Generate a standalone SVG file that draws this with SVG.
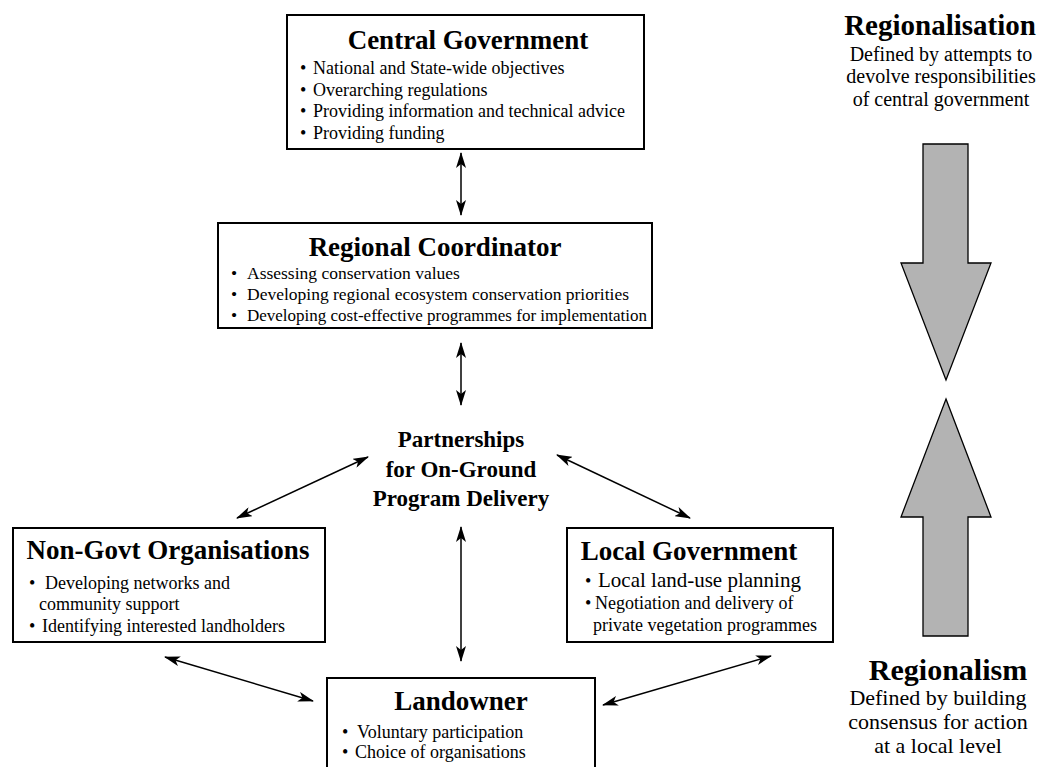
<svg xmlns="http://www.w3.org/2000/svg" width="1038" height="767" viewBox="0 0 1038 767">
<style>
.box{fill:#fff;stroke:#000;stroke-width:2}
.t{font-family:"Liberation Serif","Times New Roman",serif;font-weight:bold;font-size:27px;text-anchor:middle;fill:#000}
.b{font-family:"Liberation Serif","Times New Roman",serif;font-size:18px;fill:#000}
.p{font-family:"Liberation Serif","Times New Roman",serif;font-weight:bold;font-size:23px;text-anchor:middle;fill:#000}
.s{font-family:"Liberation Serif","Times New Roman",serif;font-size:20px;text-anchor:middle;fill:#000}
.c{stroke:#000;stroke-width:1.5;fill:none;marker-start:url(#ah);marker-end:url(#ah)}
.big{fill:#b3b3b3;stroke:#000;stroke-width:1.3}
</style>
<defs>
<marker id="ah" viewBox="0 0 16 10" refX="15" refY="5" markerWidth="16" markerHeight="10" markerUnits="userSpaceOnUse" orient="auto-start-reverse">
<path d="M0,0 L16,5 L0,10 L4,5 z" fill="#000"/>
</marker>
</defs>
<rect width="1038" height="767" fill="#fff"/>

<g id="central">
<rect class="box" x="287" y="15" width="357" height="134"/>
<text class="t" x="468" y="49">Central Government</text>
<text class="b" y="74"><tspan x="300">•</tspan><tspan x="313">National and State-wide objectives</tspan></text>
<text class="b" y="95.5"><tspan x="300">•</tspan><tspan x="313">Overarching regulations</tspan></text>
<text class="b" y="117"><tspan x="300">•</tspan><tspan x="313">Providing information and technical advice</tspan></text>
<text class="b" y="138.5"><tspan x="300">•</tspan><tspan x="313">Providing funding</tspan></text>
</g>

<g id="regional">
<rect class="box" x="218" y="223" width="434" height="105"/>
<text class="t" x="435" y="256">Regional Coordinator</text>
<text class="b" y="279" style="font-size:17.5px"><tspan x="231">•</tspan><tspan x="247">Assessing conservation values</tspan></text>
<text class="b" y="300" style="font-size:17.5px"><tspan x="231">•</tspan><tspan x="247">Developing regional ecosystem conservation priorities</tspan></text>
<text class="b" y="321" style="font-size:17.5px"><tspan x="231">•</tspan><tspan x="247" textLength="400" lengthAdjust="spacingAndGlyphs">Developing cost-effective programmes for implementation</tspan></text>
</g>

<g id="partnerships">
<text class="p" x="461" y="447">Partnerships</text>
<text class="p" x="461" y="477">for On-Ground</text>
<text class="p" x="461" y="506">Program Delivery</text>
</g>

<g id="ngo">
<rect class="box" x="13" y="528" width="312" height="114"/>
<text class="t" x="168" y="559">Non-Govt Organisations</text>
<text class="b" y="589"><tspan x="29">•</tspan><tspan x="45">Developing networks and</tspan></text>
<text class="b" x="39" y="610">community support</text>
<text class="b" y="632"><tspan x="29">•</tspan><tspan x="42">Identifying interested landholders</tspan></text>
</g>

<g id="localgov">
<rect class="box" x="567" y="528" width="266" height="114"/>
<text class="t" x="689" y="560">Local Government</text>
<text class="b" y="587"><tspan x="585">•</tspan><tspan x="598" style="font-size:21px">Local land-use planning</tspan></text>
<text class="b" y="609"><tspan x="585">•</tspan><tspan x="595">Negotiation and delivery of</tspan></text>
<text class="b" x="593" y="631">private vegetation programmes</text>
</g>

<g id="landowner">
<rect class="box" x="327" y="678" width="268" height="100"/>
<text class="t" x="461" y="710">Landowner</text>
<text class="b" y="738"><tspan x="342">•</tspan><tspan x="357">Voluntary participation</tspan></text>
<text class="b" y="758"><tspan x="342">•</tspan><tspan x="355">Choice of organisations</tspan></text>
</g>

<g id="regionalisation">
<text class="t" x="940" y="35" style="font-size:29px">Regionalisation</text>
<text class="s" x="941" y="61">Defined by attempts to</text>
<text class="s" x="941" y="83">devolve responsibilities</text>
<text class="s" x="941" y="106">of central government</text>
<path class="big" d="M923,144 L968,144 L968,263 L991,263 L946,380 L901,263 L923,263 Z"/>
</g>

<g id="regionalism">
<path class="big" d="M946,399 L991,517 L968,517 L968,636 L923,636 L923,517 L901,517 Z"/>
<text class="t" x="948" y="680" style="font-size:30px">Regionalism</text>
<text class="s" x="938" y="705" style="font-size:22px">Defined by building</text>
<text class="s" x="938" y="729" style="font-size:22px">consensus for action</text>
<text class="s" x="938" y="753" style="font-size:22px">at a local level</text>
</g>

<g id="connectors">
<line class="c" x1="461" y1="153" x2="461" y2="215"/>
<line class="c" x1="461" y1="343" x2="461" y2="405"/>
<line class="c" x1="461" y1="527" x2="461" y2="661"/>
<line class="c" x1="368" y1="457" x2="237" y2="518"/>
<line class="c" x1="557" y1="455" x2="690" y2="518"/>
<line class="c" x1="165" y1="657" x2="313" y2="701"/>
<line class="c" x1="771" y1="656" x2="603" y2="705"/>
</g>
</svg>
